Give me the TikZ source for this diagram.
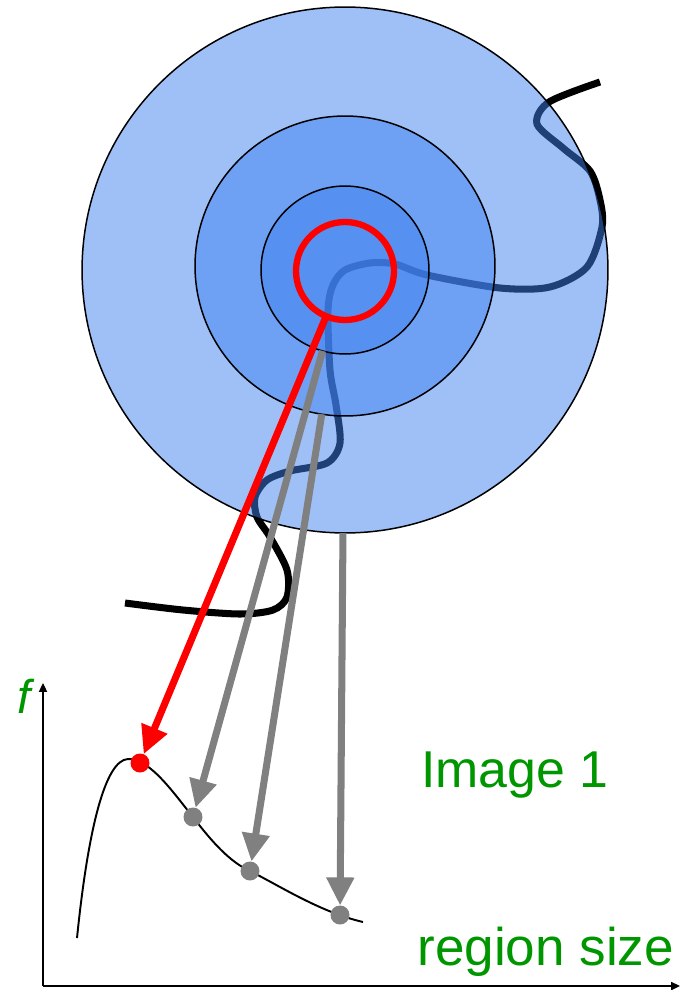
\documentclass[tikz,border=0pt]{standalone}
\usepackage{fontspec}
\setmainfont{Liberation Sans}
\usepackage{tikz}
\usetikzlibrary{arrows.meta}
\definecolor{discblue}{RGB}{63,129,239}
\definecolor{lblgreen}{RGB}{0,150,0}
\definecolor{arrgray}{RGB}{128,128,128}
\definecolor{hotred}{RGB}{255,0,0}
\tikzset{
  disc/.style={circle, draw=black, fill=discblue, fill opacity=0.5,
    draw opacity=1, line width=0.85pt, inner sep=0pt, outer sep=0pt},
  dot/.style={circle, fill=arrgray, minimum size=0.38cm, inner sep=0pt, outer sep=0pt},
  probe/.style={-{Triangle[length=16pt,width=15pt]}, line width=4pt, color=arrgray},
  axis/.style={-{Triangle[length=5pt,width=4.5pt]}, line width=1.1pt},
  lbl/.style={text=lblgreen, inner sep=0pt, font=\fontsize{29.5}{32}\selectfont}
}

\begin{document}
\begin{tikzpicture}[x=0.02cm, y=-0.02cm]
  \useasboundingbox (0,0) rectangle (680,990);
  % contour under the regions
  \draw[line width=4pt] plot[smooth, tension=0.5] coordinates {
    (125,603) (183,610) (240,614) (273,610) (287,597) (287,570) (270,537)
    (257,517) (255,497) (267,480) (290,471) (327,463) (340,443) (336,405)
    (330,370) (328,310) (333,285) (345,270) (370,263) (395,264) (427,275)
    (500,288) (550,287) (587,267) (602,227) (600,200) (590,171) (563,148)
    (537,124) (549,102) (600,82)};
  \node[disc, minimum size=10.52cm] (outer) at (345,270) {};
  \node[disc, minimum size=6cm] (middle) at (345,266) {};
  \node[disc, minimum size=3.36cm] (inner) at (345,270) {};
  \node[circle, draw=hotred, line width=3.6pt, minimum size=1.96cm,
    inner sep=0pt, outer sep=0pt] (seed) at (345,271) {};

  % f against region size
  \coordinate (origin) at (43,986);
  \draw[axis] (origin) -- (680,986);
  \draw[axis] (origin) -- (43,683);
  \draw[line width=1.1pt] (77,938) .. controls (88,830) and (105,760) .. (128,759)
    .. controls (150,758) and (175,795) .. (193,817)
    .. controls (212,842) and (230,862) .. (250,871)
    .. controls (280,886) and (320,912) .. (363,922);
  \node[dot, fill=hotred] (peak) at (140,763) {};
  \node[dot] (d1) at (193,817) {};
  \node[dot] (d2) at (250,871) {};
  \node[dot] (d3) at (340,915) {};

  \draw[probe] (inner) -- (d1);
  \draw[probe] (middle) -- (d2);
  \draw[probe] (outer) -- (d3);
  \draw[probe, color=hotred] (seed) -- (peak);

  \node[lbl, anchor=base, font=\fontsize{27}{29}\selectfont\itshape] (ylbl) at (24,713) {f};
  \node[lbl, anchor=base west] (title) at (421,787) {Image 1};
  \node[lbl, anchor=base west, font=\fontsize{30.2}{32}\selectfont] (xlbl) at (417,965) {region size};
\end{tikzpicture}
\end{document}
